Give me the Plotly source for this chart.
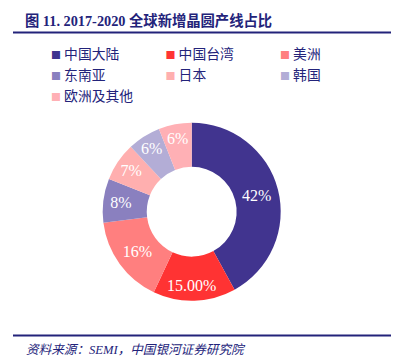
import plotly.graph_objects as go

regions = ["中国大陆", "中国台湾", "美洲", "东南亚", "日本", "韩国", "欧洲及其他"]
shares = [42, 15, 16, 8, 7, 6, 6]
share_labels = ["42%", "15.00%", "16%", "8%", "7%", "6%", "6%"]
colors = ["#41348F", "#FF3333", "#FF7F7F", "#8A80BF", "#FFAFAF", "#B3ADD6", "#FFB0B5"]

title_text = "图 11. 2017-2020 全球新增晶圆产线占比"
source_text = "资料来源：SEMI，中国银河证券研究院"

W, H = 394, 361
NAVY = "#23237A"
SERIF = "Liberation Serif, Noto Sans CJK SC, serif"

fig = go.Figure()

# Donut
cx, cy, R = 191.7, 211.7, 89.0
fig.add_trace(go.Pie(
    labels=regions, values=shares, text=share_labels, textinfo="text",
    sort=False, direction="clockwise", rotation=0, hole=0.505,
    marker=dict(colors=colors, line=dict(width=0)),
    textposition="inside", insidetextorientation="horizontal",
    textfont=dict(family="Liberation Serif, serif", size=16, color="white"),
    domain=dict(x=[(cx - R) / W, (cx + R) / W], y=[(H - cy - R) / H, (H - cy + R) / H]),
    showlegend=False, hoverinfo="label+percent",
))

# Legend entries (colored square glyph + name)
for name, col in zip(regions, colors):
    fig.add_trace(go.Scatter(
        x=[None], y=[None], mode="markers",
        marker=dict(size=1, color="rgba(0,0,0,0)"),
        name=f"<span style='font-size:10px;color:{col}'>■</span> {name}",
        showlegend=True,
    ))

fig.update_layout(
    width=W, height=H,
    margin=dict(l=0, r=0, t=0, b=0),
    paper_bgcolor="white", plot_bgcolor="white",
    xaxis=dict(visible=False), yaxis=dict(visible=False),
    legend=dict(
        orientation="h", x=11 / W, y=1 - 38.5 / H, xanchor="left", yanchor="top",
        entrywidth=69.5, entrywidthmode="pixels", itemwidth=30,
        font=dict(family="Noto Sans CJK SC, serif", size=13.8, color=NAVY),
        tracegroupgap=0, itemclick=False, itemdoubleclick=False,
        bgcolor="rgba(0,0,0,0)",
    ),
    shapes=[
        dict(type="line", xref="paper", yref="paper", x0=13 / W, x1=391 / W,
             y0=1 - 32.5 / H, y1=1 - 32.5 / H, line=dict(color=NAVY, width=2)),
        dict(type="line", xref="paper", yref="paper", x0=13 / W, x1=391 / W,
             y0=1 - 335.5 / H, y1=1 - 335.5 / H, line=dict(color=NAVY, width=2)),
    ],
    annotations=[
        dict(text=f"<b>{title_text}</b>", xref="paper", yref="paper",
             x=23 / W, y=1 - 20 / H, xanchor="left", yanchor="middle", showarrow=False,
             font=dict(family=SERIF, size=14.3, color=NAVY)),
        dict(text=f"<i>{source_text}</i>", xref="paper", yref="paper",
             x=24 / W, y=1 - 350 / H, xanchor="left", yanchor="middle", showarrow=False,
             font=dict(family=SERIF, size=12.6, color=NAVY)),
    ],
)

fig.write_html("out.html", config={"displayModeBar": False},
               post_script="document.body.style.margin='0';")
